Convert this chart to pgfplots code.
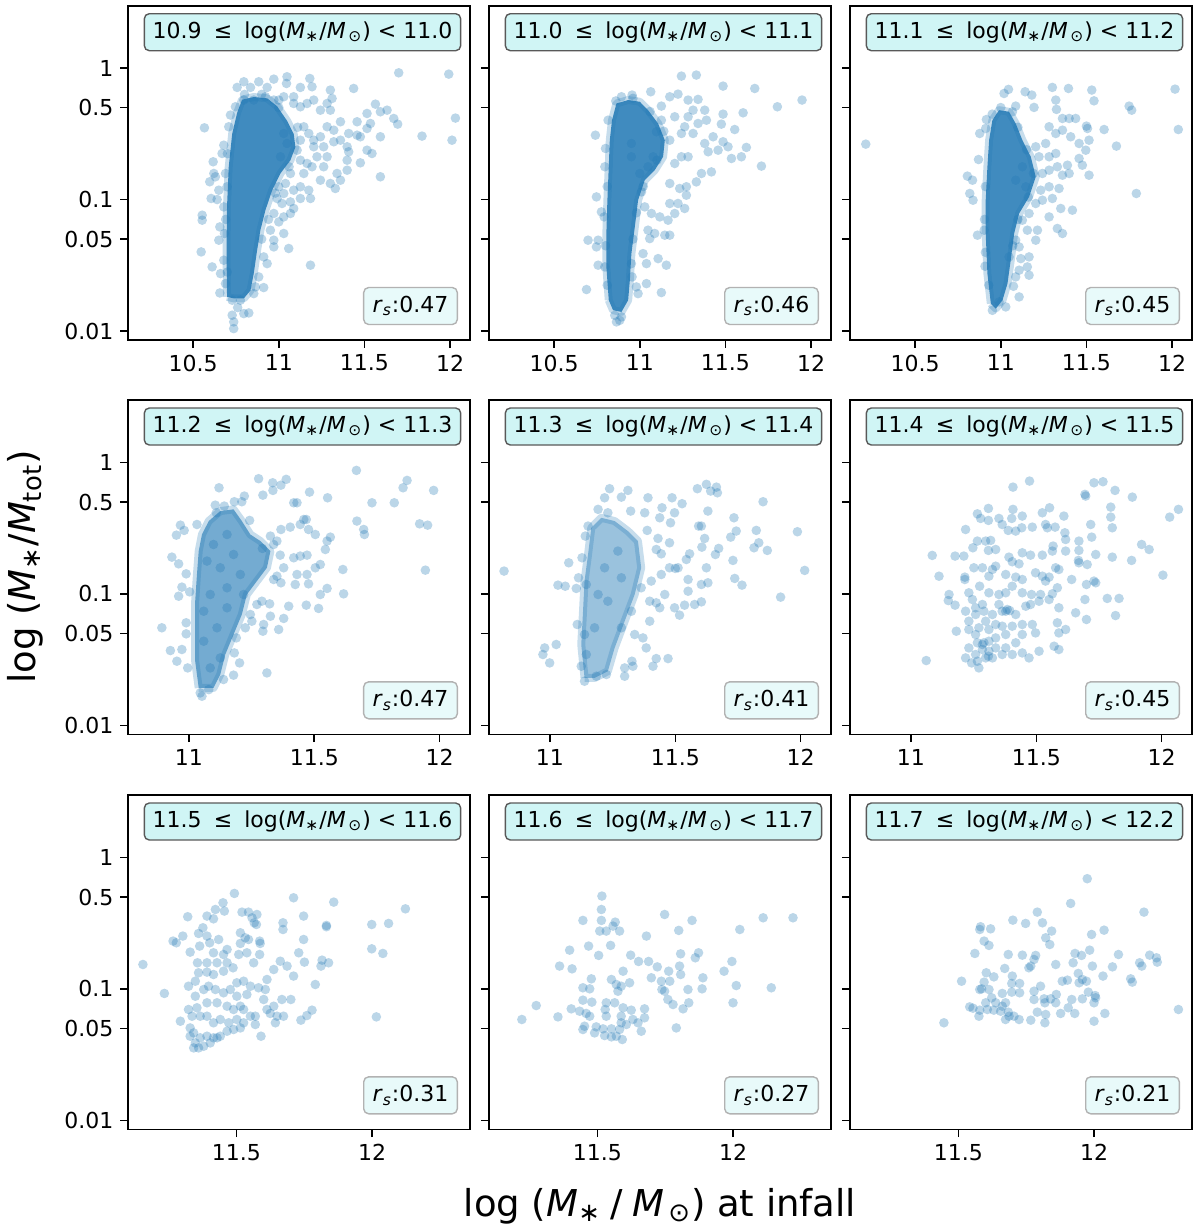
\documentclass[border=0pt]{standalone}
\usepackage{fontspec}
\setmainfont{DejaVu Sans}
\usepackage{pgfplots}
\pgfplotsset{compat=1.18}
\definecolor{mplblue}{HTML}{1F77B4}
\definecolor{boxfill}{RGB}{208,245,245}
\definecolor{rsfill}{RGB}{232,250,250}
\newcommand{\Mstar}{\textit{M}\textsubscript{∗}}
\newcommand{\Msun}{\textit{M}\hspace{0.12em}\textsubscript{⊙}}
\newcommand{\rs}{\textit{r}\textsubscript{\textit{s}}}
\tikzset{
  labbox/.style={draw=black!65, fill=boxfill, rounded corners=2.5pt, line width=0.7pt,
    inner xsep=4.2pt, minimum height=18.5pt, font=\fontsize{11}{13}\selectfont},
  rsbox/.style={draw=black!30, fill=rsfill, rounded corners=2.5pt, line width=0.7pt,
    inner xsep=4.5pt, minimum height=18.5pt, font=\fontsize{11}{13}\selectfont, anchor=south east},
}
\pgfplotsset{
  panel/.style={
    scale only axis, width=171pt, height=167.25pt,
    anchor=north west,
    ymin=-2.068, ymax=0.474,
    ytick={-2,-1.30103,-1,-0.30103,0},
    yticklabels={},
    tick align=outside, tick pos=left,
    major tick length=3.8pt,
    axis line style={line width=0.8pt},
    tick style={line width=0.8pt, black},
    tick label style={font=\fontsize{11}{13}\selectfont},
    /pgf/number format/assume math mode=true,
  },
  ylabs/.style={yticklabels={0.01,0.05,0.1,0.5,1}},
  pts/.style={only marks, mark=*, mark size=2.4pt, color=mplblue,
    mark options={solid, fill=mplblue, draw=mplblue, draw opacity=0, fill opacity=0.3}},
  core/.style={draw=mplblue, draw opacity=0.25, line width=4pt, line join=round,
    fill=mplblue, fill opacity=#1, mark=none},
}
\begin{document}
\begin{tikzpicture}
\path[use as bounding box] (0,0) rectangle (600pt,-616pt);

% ---------------- Row 1, col 1
\begin{axis}[panel, at={(64pt,-2.85pt)}, xmin=10.12, xmax=12.116,
  xtick={10.5,11,11.5,12}, xticklabels={10.5,11,11.5,12}, ylabs]
\addplot[core=0.85] coordinates {(10.698,-1.738)(10.695,-1.38)(10.698,-1.05)(10.708,-0.75)(10.728,-0.50)(10.757,-0.34)(10.786,-0.24)(10.854,-0.22)(10.932,-0.23)(10.990,-0.29)(11.048,-0.40)(11.087,-0.50)(11.097,-0.60)(11.068,-0.70)(11.010,-0.80)(10.961,-0.93)(10.922,-1.08)(10.893,-1.23)(10.874,-1.38)(10.854,-1.56)(10.835,-1.69)(10.796,-1.75)(10.737,-1.75)(10.698,-1.738)};
\addplot[pts] coordinates {(10.757,-0.147)(10.796,-0.104)(10.835,-0.147)(10.883,-0.104)(10.932,-0.147)(10.971,-0.084)(11.048,-0.066)(11.045,-0.117)(11.126,-0.147)(11.181,-0.079)(11.194,-0.142)(11.301,-0.167)(11.437,-0.155)(11.700,-0.036)(11.992,-0.046)(12.031,-0.380)(12.011,-0.548)(11.836,-0.517)(11.694,-0.426)(11.671,-0.383)(11.632,-0.320)(11.593,-0.332)(11.564,-0.274)(11.535,-0.421)(11.515,-0.459)(11.457,-0.408)(11.457,-0.510)(11.476,-0.522)(11.408,-0.497)(11.399,-0.598)(11.360,-0.408)(11.311,-0.231)(11.301,-0.320)(11.282,-0.269)(11.243,-0.320)(11.204,-0.243)(11.165,-0.269)(11.126,-0.294)(11.087,-0.269)(11.087,-0.218)(11.029,-0.218)(11.000,-0.243)(10.971,-0.243)(10.922,-0.218)(10.854,-0.243)(10.796,-0.243)(10.747,-0.294)(10.718,-0.357)(10.708,-0.446)(10.566,-0.454)(10.679,-0.586)(10.669,-0.649)(10.617,-0.712)(10.621,-0.801)(10.597,-0.864)(10.630,-0.826)(10.650,-0.928)(10.605,-0.991)(10.640,-0.999)(10.553,-1.118)(10.553,-1.156)(10.547,-1.397)(10.611,-1.511)(10.656,-1.207)(10.650,-1.308)(10.660,-1.562)(10.656,-1.709)(10.728,-1.878)(10.737,-1.929)(10.737,-1.980)(10.796,-1.866)(10.825,-1.861)(10.728,-1.764)(10.776,-1.764)(10.854,-1.714)(10.864,-1.663)(10.912,-1.668)(10.883,-1.587)(10.932,-1.486)(10.912,-1.435)(10.971,-1.359)(11.058,-1.371)(11.029,-1.257)(10.971,-1.308)(10.951,-1.232)(11.000,-1.169)(11.068,-1.105)(11.185,-1.498)(11.126,-0.991)(11.185,-0.991)(11.175,-0.928)(11.126,-0.902)(11.068,-1.017)(11.087,-1.067)(11.029,-0.953)(11.243,-0.852)(11.301,-0.877)(11.330,-0.915)(11.360,-0.852)(11.399,-0.700)(11.408,-0.636)(11.476,-0.720)(11.544,-0.649)(11.593,-0.826)(11.399,-0.776)(11.340,-0.801)(11.262,-0.750)(11.282,-0.674)(11.262,-0.598)(11.204,-0.598)(11.223,-0.674)(11.194,-0.750)(11.165,-0.725)(11.146,-0.801)(11.126,-0.700)(11.175,-0.497)(11.204,-0.548)(11.243,-0.522)(11.282,-0.446)(11.321,-0.472)(11.360,-0.548)(11.515,-0.624)(11.029,-1.131)(11.019,-1.029)(11.000,-0.902)(11.087,-0.928)(11.321,-0.560)(11.593,-0.522)(11.515,-0.345)(11.029,-0.497)(11.048,-0.573)(11.010,-0.674)(11.107,-0.624)(11.126,-0.548)(11.146,-0.446)(11.068,-0.801)(11.039,-0.877)(10.990,-0.991)(10.971,-1.105)(10.679,-1.055)(10.683,-1.257)(10.679,-1.460)(10.689,-1.638)(10.698,-0.902)(10.689,-0.801)(10.700,-0.650)(10.690,-1.150)(10.700,-1.550)(10.760,-1.820)(10.900,-1.300)(10.940,-1.150)(10.980,-0.950)(11.060,-0.750)(11.110,-0.450)(11.000,-0.300)(10.900,-0.200)(10.800,-0.200)};
\node[labbox, xshift=1.75pt, yshift=-13.25pt] at (rel axis cs:0.5,1) {10.9\hspace{0.55em}≤\hspace{0.55em}log(\Mstar/\Msun) < 11.0};
\node[rsbox, xshift=-6pt, yshift=7.5pt] at (rel axis cs:1,0) {\rs:0.47};
\end{axis}

% ---------------- Row 1, col 2
\begin{axis}[panel, at={(244.5pt,-2.85pt)}, xmin=10.12, xmax=12.116,
  xtick={10.5,11,11.5,12}, xticklabels={10.5,11,11.5,12}]
\addplot[core=0.85] coordinates {(10.819,-1.764)(10.805,-1.511)(10.805,-1.257)(10.811,-1.004)(10.819,-0.750)(10.825,-0.548)(10.838,-0.396)(10.864,-0.269)(10.932,-0.243)(11.000,-0.256)(11.048,-0.320)(11.107,-0.421)(11.146,-0.548)(11.136,-0.674)(11.087,-0.776)(11.029,-0.852)(10.990,-1.004)(10.971,-1.207)(10.951,-1.410)(10.942,-1.612)(10.932,-1.764)(10.893,-1.853)(10.844,-1.840)(10.819,-1.764)};
\addplot[pts] coordinates {(11.243,-0.061)(11.330,-0.053)(11.064,-0.180)(10.955,-0.205)(11.126,-0.289)(11.175,-0.218)(11.223,-0.198)(11.282,-0.243)(11.340,-0.238)(11.311,-0.320)(11.379,-0.320)(11.486,-0.137)(11.671,-0.155)(11.803,-0.294)(11.947,-0.243)(11.603,-0.340)(11.486,-0.350)(11.476,-0.426)(11.554,-0.467)(11.389,-0.396)(11.340,-0.421)(11.282,-0.370)(11.262,-0.446)(11.204,-0.370)(11.126,-0.396)(11.097,-0.484)(11.175,-0.548)(11.243,-0.497)(11.311,-0.497)(11.379,-0.573)(11.428,-0.522)(11.486,-0.560)(11.457,-0.624)(11.515,-0.598)(11.399,-0.636)(11.622,-0.603)(11.593,-0.674)(11.535,-0.687)(11.710,-0.745)(11.418,-0.789)(11.360,-0.801)(11.330,-0.865)(11.282,-0.674)(11.243,-0.674)(11.204,-0.725)(11.175,-0.877)(11.233,-0.915)(11.272,-0.902)(11.272,-0.966)(11.223,-1.029)(11.175,-1.029)(11.262,-1.067)(11.204,-1.105)(11.165,-1.156)(11.117,-1.131)(11.068,-1.105)(11.048,-1.232)(11.087,-1.257)(11.146,-1.270)(11.175,-1.270)(11.058,-1.296)(11.019,-1.410)(11.039,-1.486)(11.107,-1.448)(11.155,-1.498)(11.126,-1.706)(11.039,-1.638)(10.757,-1.308)(10.698,-1.308)(10.747,-1.359)(10.747,-0.979)(10.776,-1.093)(10.757,-1.498)(10.689,-1.683)(10.741,-0.510)(10.800,-0.611)(10.854,-1.879)(10.864,-1.929)(10.883,-1.917)(10.893,-1.891)(10.951,-1.486)(10.955,-1.587)(10.980,-1.663)(11.029,-1.055)(11.010,-0.941)(11.000,-0.801)(10.951,-0.674)(10.951,-0.573)(11.078,-0.674)(11.048,-0.750)(10.796,-0.750)(10.792,-1.131)(10.796,-1.511)(10.815,-0.396)(10.893,-0.218)(10.990,-1.714)(10.810,-0.900)(10.800,-1.350)(10.810,-1.650)(10.960,-1.300)(10.980,-1.100)(11.020,-0.900)(11.100,-0.700)(11.140,-0.480)(11.060,-0.330)(10.960,-0.230)(10.860,-0.250)};
\node[labbox, xshift=1.75pt, yshift=-13.25pt] at (rel axis cs:0.5,1) {11.0\hspace{0.55em}≤\hspace{0.55em}log(\Mstar/\Msun) < 11.1};
\node[rsbox, xshift=-6pt, yshift=7.5pt] at (rel axis cs:1,0) {\rs:0.46};
\end{axis}

% ---------------- Row 1, col 3
\begin{axis}[panel, at={(425pt,-2.85pt)}, xmin=10.12, xmax=12.116,
  xtick={10.5,11,11.5,12}, xticklabels={10.5,11,11.5,12}]
\addplot[core=0.85] coordinates {(10.942,-1.790)(10.922,-1.562)(10.912,-1.257)(10.912,-1.004)(10.922,-0.750)(10.932,-0.548)(10.951,-0.396)(10.990,-0.320)(11.048,-0.332)(11.087,-0.421)(11.126,-0.548)(11.175,-0.674)(11.204,-0.826)(11.165,-0.979)(11.107,-1.105)(11.078,-1.257)(11.058,-1.460)(11.039,-1.638)(11.010,-1.764)(10.971,-1.828)(10.942,-1.790)};
\addplot[pts] coordinates {(10.212,-0.578)(11.019,-0.193)(11.045,-0.162)(11.142,-0.180)(11.181,-0.205)(11.301,-0.147)(11.395,-0.155)(11.531,-0.167)(11.544,-0.249)(11.321,-0.243)(11.325,-0.314)(11.194,-0.299)(11.087,-0.289)(11.068,-0.332)(10.916,-0.391)(10.877,-0.497)(10.912,-0.459)(10.870,-0.695)(10.805,-0.821)(10.835,-0.852)(10.819,-0.953)(10.838,-1.004)(10.864,-1.270)(10.903,-1.232)(10.908,-1.506)(10.990,-1.777)(11.029,-1.815)(10.951,-1.841)(11.107,-1.739)(11.074,-1.658)(11.165,-1.574)(11.155,-1.511)(11.107,-1.536)(11.117,-1.448)(11.165,-1.435)(11.204,-1.308)(11.155,-1.232)(11.214,-1.232)(11.282,-1.131)(11.330,-1.219)(11.360,-1.257)(11.418,-1.080)(11.350,-1.067)(11.301,-0.991)(11.243,-1.004)(11.233,-0.928)(11.282,-0.902)(11.340,-0.915)(11.360,-0.814)(11.399,-0.801)(11.389,-0.738)(11.515,-0.814)(11.476,-0.738)(11.457,-0.687)(11.496,-0.624)(11.515,-0.548)(11.457,-0.573)(11.408,-0.522)(11.360,-0.472)(11.321,-0.497)(11.282,-0.446)(11.360,-0.383)(11.399,-0.383)(11.437,-0.383)(11.500,-0.441)(11.506,-0.459)(11.603,-0.467)(11.675,-0.593)(11.749,-0.289)(11.764,-0.320)(12.017,-0.160)(12.036,-0.467)(11.791,-0.953)(11.262,-0.573)(11.223,-0.674)(11.282,-0.674)(11.204,-0.598)(11.321,-0.649)(11.330,-0.750)(11.282,-0.776)(11.243,-0.801)(11.126,-0.750)(11.087,-0.852)(11.146,-0.902)(11.204,-1.029)(11.126,-1.156)(11.087,-1.308)(11.107,-1.359)(11.048,-1.435)(11.087,-1.587)(11.165,-1.105)(10.910,-0.900)(10.905,-1.150)(10.910,-1.400)(10.930,-1.650)(11.070,-1.350)(11.100,-1.150)(11.160,-0.980)(11.190,-0.800)(11.150,-0.620)(11.100,-0.450)(11.000,-0.300)(10.950,-0.350)};
\node[labbox, xshift=1.75pt, yshift=-13.25pt] at (rel axis cs:0.5,1) {11.1\hspace{0.55em}≤\hspace{0.55em}log(\Mstar/\Msun) < 11.2};
\node[rsbox, xshift=-6pt, yshift=7.5pt] at (rel axis cs:1,0) {\rs:0.45};
\end{axis}

% ---------------- Row 2, col 1
\begin{axis}[panel, at={(64pt,-200pt)}, xmin=10.757, xmax=12.121,
  xtick={11,11.5,12}, xticklabels={11,11.5,12}, ylabs]
\addplot[core=0.62] coordinates {(11.039,-1.714)(11.025,-1.511)(11.025,-1.257)(11.025,-1.055)(11.032,-0.852)(11.039,-0.674)(11.052,-0.548)(11.079,-0.446)(11.125,-0.370)(11.178,-0.357)(11.211,-0.446)(11.245,-0.548)(11.285,-0.598)(11.325,-0.674)(11.311,-0.801)(11.271,-0.902)(11.231,-1.004)(11.211,-1.156)(11.178,-1.308)(11.145,-1.460)(11.125,-1.612)(11.098,-1.714)(11.039,-1.714)};
\addplot[pts] coordinates {(11.668,-0.061)(11.278,-0.124)(11.388,-0.129)(11.334,-0.155)(11.367,-0.173)(11.335,-0.213)(11.120,-0.193)(11.481,-0.226)(11.553,-0.269)(11.295,-0.249)(11.221,-0.256)(11.181,-0.299)(11.211,-0.299)(11.105,-0.325)(11.141,-0.332)(11.109,-0.383)(11.418,-0.307)(11.431,-0.307)(11.730,-0.307)(11.819,-0.307)(11.854,-0.193)(11.870,-0.137)(11.976,-0.213)(11.670,-0.446)(11.697,-0.510)(11.700,-0.548)(11.920,-0.467)(11.952,-0.477)(11.468,-0.434)(11.458,-0.434)(11.444,-0.472)(11.404,-0.492)(11.367,-0.510)(11.325,-0.560)(11.351,-0.598)(11.242,-0.441)(11.032,-0.472)(10.966,-0.477)(10.981,-0.517)(10.950,-0.553)(10.932,-0.720)(10.959,-0.771)(10.989,-0.847)(10.972,-0.948)(10.959,-1.017)(11.003,-0.984)(10.892,-1.257)(10.989,-1.219)(10.989,-1.303)(10.926,-1.430)(10.972,-1.422)(10.952,-1.511)(10.995,-1.562)(11.045,-1.752)(11.052,-1.777)(11.079,-1.727)(11.138,-1.650)(11.178,-1.617)(11.311,-1.600)(11.202,-1.524)(11.181,-1.448)(11.189,-1.334)(11.225,-1.257)(11.251,-1.207)(11.295,-1.283)(11.298,-1.232)(11.325,-1.169)(11.358,-1.270)(11.378,-1.186)(11.398,-1.093)(11.468,-1.085)(11.517,-1.110)(11.551,-0.958)(11.524,-1.004)(11.477,-0.923)(11.424,-0.928)(11.367,-0.915)(11.322,-1.075)(11.291,-1.055)(11.617,-0.999)(11.614,-0.814)(11.524,-0.776)(11.504,-0.801)(11.471,-0.852)(11.431,-0.852)(11.418,-0.725)(11.444,-0.712)(11.471,-0.705)(11.378,-0.801)(11.351,-0.865)(11.338,-0.890)(11.544,-0.662)(11.551,-0.598)(11.564,-0.568)(11.504,-0.548)(11.477,-0.510)(11.364,-0.705)(11.338,-0.624)(11.293,-0.654)(11.943,-0.819)(11.271,-1.080)(11.245,-1.156)(11.152,-1.105)(11.085,-1.004)(11.072,-0.750)(11.098,-0.624)(11.152,-0.548)(11.178,-0.700)(11.125,-0.801)(11.205,-0.852)(11.152,-0.953)(11.059,-1.359)(11.085,-1.562)(11.125,-1.486)(11.059,-1.131)(11.112,-1.257)(11.218,-1.004)};
\node[labbox, xshift=1.75pt, yshift=-13.25pt] at (rel axis cs:0.5,1) {11.2\hspace{0.55em}≤\hspace{0.55em}log(\Mstar/\Msun) < 11.3};
\node[rsbox, xshift=-6pt, yshift=7.5pt] at (rel axis cs:1,0) {\rs:0.47};
\end{axis}

% ---------------- Row 2, col 2
\begin{axis}[panel, at={(244.5pt,-200pt)}, xmin=10.757, xmax=12.121,
  xtick={11,11.5,12}, xticklabels={11,11.5,12}]
\addplot[core=0.45] coordinates {(11.138,-1.638)(11.125,-1.384)(11.132,-1.131)(11.138,-0.902)(11.152,-0.700)(11.165,-0.497)(11.205,-0.421)(11.258,-0.446)(11.311,-0.522)(11.351,-0.598)(11.364,-0.801)(11.338,-1.004)(11.298,-1.207)(11.258,-1.410)(11.231,-1.587)(11.178,-1.638)(11.138,-1.638)};
\addplot[pts] coordinates {(10.817,-0.826)(11.238,-0.200)(11.311,-0.213)(11.218,-0.269)(11.285,-0.264)(11.391,-0.269)(11.487,-0.269)(11.527,-0.314)(11.588,-0.200)(11.624,-0.167)(11.641,-0.218)(11.664,-0.188)(11.668,-0.231)(11.447,-0.345)(11.497,-0.383)(11.438,-0.421)(11.481,-0.459)(11.378,-0.383)(11.322,-0.370)(11.231,-0.383)(11.192,-0.357)(11.152,-0.484)(11.141,-0.560)(11.075,-0.763)(11.128,-0.725)(11.114,-0.877)(11.145,-0.928)(11.032,-0.933)(11.061,-0.941)(11.105,-0.958)(11.109,-1.232)(11.138,-1.308)(11.145,-1.460)(11.125,-1.549)(11.138,-1.663)(11.185,-1.625)(11.225,-1.612)(11.298,-1.625)(11.331,-1.549)(11.298,-1.562)(11.327,-1.511)(11.424,-1.491)(11.471,-1.491)(11.411,-1.549)(11.371,-1.334)(11.338,-1.308)(11.384,-1.410)(11.398,-1.207)(11.424,-1.067)(11.438,-1.105)(11.497,-1.105)(11.517,-1.161)(11.537,-1.085)(11.577,-1.080)(11.604,-1.060)(11.551,-0.979)(11.604,-0.928)(11.630,-0.915)(11.737,-0.882)(11.766,-0.933)(11.920,-1.024)(12.016,-0.821)(11.987,-0.527)(11.850,-0.299)(11.823,-0.517)(11.833,-0.611)(11.867,-0.669)(11.814,-0.649)(11.734,-0.421)(11.743,-0.522)(11.721,-0.568)(11.673,-0.654)(11.660,-0.700)(11.624,-0.801)(11.606,-0.644)(11.617,-0.578)(11.604,-0.484)(11.630,-0.370)(11.593,-0.484)(11.477,-0.611)(11.431,-0.578)(11.388,-0.517)(11.424,-0.662)(11.444,-0.695)(11.477,-0.801)(11.500,-0.806)(11.544,-0.738)(11.557,-0.695)(11.730,-0.745)(11.551,-0.890)(11.511,-0.801)(11.444,-0.852)(11.404,-0.902)(11.364,-0.953)(11.458,-1.004)(11.398,-1.055)(10.979,-1.410)(10.999,-1.524)(11.025,-1.384)(10.972,-1.460)(11.271,-0.674)(11.285,-0.877)(11.192,-1.004)(11.178,-1.257)(11.231,-1.055)(11.285,-1.257)(11.218,-0.801)(11.325,-1.131)};
\node[labbox, xshift=1.75pt, yshift=-13.25pt] at (rel axis cs:0.5,1) {11.3\hspace{0.55em}≤\hspace{0.55em}log(\Mstar/\Msun) < 11.4};
\node[rsbox, xshift=-6pt, yshift=7.5pt] at (rel axis cs:1,0) {\rs:0.41};
\end{axis}

% ---------------- Row 2, col 3
\begin{axis}[panel, at={(425pt,-200pt)}, xmin=10.757, xmax=12.121,
  xtick={11,11.5,12}, xticklabels={11,11.5,12}]
\addplot[pts] coordinates {(11.473,-0.142)(11.407,-0.188)(11.730,-0.155)(11.766,-0.147)(11.694,-0.243)(11.697,-0.256)(11.814,-0.213)(11.883,-0.264)(11.797,-0.340)(12.032,-0.416)(12.067,-0.357)(11.553,-0.345)(11.610,-0.408)(11.524,-0.383)(11.444,-0.408)(11.407,-0.357)(11.309,-0.350)(11.265,-0.391)(11.278,-0.426)(11.309,-0.441)(11.351,-0.426)(11.402,-0.426)(11.364,-0.472)(11.388,-0.517)(11.418,-0.522)(11.442,-0.497)(11.484,-0.492)(11.537,-0.472)(11.544,-0.497)(11.575,-0.492)(11.614,-0.535)(11.617,-0.586)(11.670,-0.598)(11.717,-0.472)(11.721,-0.568)(11.797,-0.416)(11.803,-0.497)(11.920,-0.624)(11.950,-0.662)(12.005,-0.857)(11.880,-0.745)(11.803,-0.720)(11.737,-0.700)(11.703,-0.776)(11.670,-0.763)(11.668,-0.745)(11.670,-0.669)(11.617,-0.674)(11.567,-0.636)(11.564,-0.674)(11.524,-0.705)(11.477,-0.705)(11.444,-0.687)(11.431,-0.771)(11.404,-0.755)(11.391,-0.720)(11.338,-0.662)(11.309,-0.669)(11.298,-0.598)(11.318,-0.593)(11.265,-0.598)(11.247,-0.649)(11.218,-0.510)(11.211,-0.712)(11.176,-0.712)(11.085,-0.707)(11.112,-0.865)(11.215,-0.872)(11.251,-0.801)(11.285,-0.801)(11.311,-0.865)(11.338,-0.789)(11.325,-0.814)(11.378,-0.852)(11.418,-0.872)(11.444,-0.890)(11.497,-0.839)(11.524,-0.865)(11.537,-0.902)(11.551,-0.872)(11.577,-0.801)(11.590,-0.814)(11.641,-0.890)(11.584,-0.953)(11.564,-0.999)(11.517,-1.004)(11.481,-1.004)(11.444,-0.991)(11.404,-0.941)(11.378,-0.991)(11.351,-1.004)(11.311,-0.991)(11.274,-0.941)(11.231,-0.991)(11.215,-0.890)(11.149,-1.050)(11.176,-1.085)(11.245,-1.042)(11.258,-1.105)(11.291,-1.131)(11.325,-1.156)(11.378,-1.131)(11.394,-1.126)(11.418,-1.156)(11.458,-1.093)(11.477,-1.080)(11.511,-1.055)(11.551,-1.042)(11.590,-1.105)(11.584,-1.219)(11.590,-1.296)(11.617,-1.270)(11.657,-1.143)(11.700,-1.194)(11.737,-0.915)(11.700,-0.928)(11.730,-0.902)(11.783,-1.034)(11.830,-1.034)(11.816,-1.164)(11.694,-1.042)(11.181,-1.283)(11.231,-1.270)(11.258,-1.308)(11.271,-1.257)(11.311,-1.270)(11.338,-1.232)(11.364,-1.245)(11.404,-1.245)(11.444,-1.232)(11.484,-1.232)(11.497,-1.296)(11.444,-1.308)(11.418,-1.371)(11.378,-1.410)(11.338,-1.410)(11.291,-1.371)(11.265,-1.371)(11.231,-1.410)(11.218,-1.486)(11.242,-1.524)(11.271,-1.562)(11.265,-1.511)(11.309,-1.473)(11.325,-1.486)(11.364,-1.460)(11.404,-1.460)(11.444,-1.448)(11.471,-1.486)(11.511,-1.435)(11.571,-1.397)(11.590,-1.422)(11.061,-1.506)(11.311,-1.359)(11.285,-1.422)(11.338,-1.334)(11.378,-1.308)(11.218,-1.131)(11.231,-1.207)(11.298,-1.207)(11.351,-1.080)(11.152,-1.004)(11.285,-1.384)(11.311,-1.435)(11.298,-1.486)(11.258,-1.460)(11.364,-1.131)(11.384,-1.118)(11.258,-1.156)(11.285,-1.080)};
\node[labbox, xshift=1.75pt, yshift=-13.25pt] at (rel axis cs:0.5,1) {11.4\hspace{0.55em}≤\hspace{0.55em}log(\Mstar/\Msun) < 11.5};
\node[rsbox, xshift=-6pt, yshift=7.5pt] at (rel axis cs:1,0) {\rs:0.45};
\end{axis}

% ---------------- Row 3, col 1
\begin{axis}[panel, at={(64pt,-397.5pt)}, xmin=11.101, xmax=12.361,
  xtick={11.5,12}, xticklabels={11.5,12}, ylabs]
\addplot[pts] coordinates {(11.156,-0.814)(11.235,-1.034)(11.294,-1.245)(11.321,-0.451)(11.267,-0.636)(11.279,-0.649)(11.303,-0.598)(11.324,-0.979)(11.330,-0.720)(11.349,-1.055)(11.361,-0.578)(11.377,-0.535)(11.392,-0.446)(11.423,-0.396)(11.451,-0.345)(11.456,-0.408)(11.416,-0.467)(11.493,-0.274)(11.521,-0.416)(11.545,-0.416)(11.558,-0.459)(11.566,-0.497)(11.576,-0.434)(11.574,-0.510)(11.515,-0.573)(11.533,-0.611)(11.515,-0.654)(11.545,-0.624)(11.586,-0.636)(11.588,-0.654)(11.509,-0.738)(11.539,-0.725)(11.564,-0.801)(11.586,-0.738)(11.453,-0.738)(11.466,-0.700)(11.435,-0.624)(11.402,-0.649)(11.392,-0.598)(11.365,-0.674)(11.357,-0.801)(11.392,-0.801)(11.416,-0.725)(11.429,-0.801)(11.466,-0.801)(11.488,-0.839)(11.453,-0.865)(11.416,-0.890)(11.392,-0.872)(11.361,-0.877)(11.349,-0.941)(11.380,-1.004)(11.398,-0.979)(11.423,-1.004)(11.453,-1.029)(11.478,-1.004)(11.502,-0.953)(11.527,-0.941)(11.552,-0.979)(11.582,-0.991)(11.607,-1.004)(11.502,-1.055)(11.539,-1.042)(11.515,-1.131)(11.527,-1.156)(11.490,-1.156)(11.466,-1.131)(11.429,-1.105)(11.392,-1.105)(11.355,-1.143)(11.324,-1.156)(11.337,-1.207)(11.367,-1.207)(11.392,-1.207)(11.416,-1.257)(11.441,-1.232)(11.472,-1.257)(11.502,-1.232)(11.527,-1.257)(11.552,-1.207)(11.570,-1.207)(11.613,-1.156)(11.625,-1.186)(11.644,-1.257)(11.674,-1.207)(11.701,-1.080)(11.668,-1.080)(11.638,-1.131)(11.601,-1.080)(11.570,-1.270)(11.515,-1.296)(11.490,-1.308)(11.466,-1.321)(11.441,-1.359)(11.416,-1.371)(11.392,-1.359)(11.367,-1.371)(11.343,-1.334)(11.330,-1.296)(11.349,-1.410)(11.343,-1.448)(11.361,-1.448)(11.380,-1.435)(11.404,-1.410)(11.429,-1.371)(11.330,-1.359)(11.591,-1.359)(11.672,-0.497)(11.672,-0.548)(11.711,-0.307)(11.748,-0.446)(11.748,-0.624)(11.730,-0.725)(11.751,-0.796)(11.662,-0.789)(11.687,-0.826)(11.711,-0.902)(11.791,-0.966)(11.816,-0.781)(11.832,-0.517)(11.859,-0.340)(11.832,-0.527)(11.812,-0.826)(11.840,-0.801)(11.779,-1.161)(11.760,-1.202)(11.738,-1.237)(11.650,-1.207)(11.999,-0.510)(12.061,-0.502)(12.123,-0.391)(11.999,-0.695)(12.040,-0.730)(12.016,-1.212)(11.638,-0.852)(11.613,-0.928)};
\node[labbox, xshift=1.75pt, yshift=-13.25pt] at (rel axis cs:0.5,1) {11.5\hspace{0.55em}≤\hspace{0.55em}log(\Mstar/\Msun) < 11.6};
\node[rsbox, xshift=-6pt, yshift=7.5pt] at (rel axis cs:1,0) {\rs:0.31};
\end{axis}

% ---------------- Row 3, col 2
\begin{axis}[panel, at={(244.5pt,-397.5pt)}, xmin=11.101, xmax=12.361,
  xtick={11.5,12}, xticklabels={11.5,12}]
\addplot[pts] coordinates {(11.517,-0.294)(11.515,-0.396)(11.447,-0.479)(11.515,-0.479)(11.566,-0.492)(11.558,-0.522)(11.582,-0.560)(11.509,-0.560)(11.533,-0.560)(11.748,-0.434)(11.849,-0.479)(11.800,-0.555)(11.681,-0.598)(11.549,-0.669)(11.468,-0.674)(11.398,-0.705)(11.505,-0.745)(11.623,-0.743)(11.652,-0.791)(11.689,-0.791)(11.721,-0.832)(11.763,-0.865)(11.803,-0.826)(11.807,-0.733)(11.861,-0.763)(11.873,-0.725)(11.807,-0.890)(11.767,-0.941)(11.736,-0.941)(11.699,-0.915)(11.738,-1.004)(11.748,-1.017)(11.760,-1.080)(11.779,-1.118)(11.816,-1.151)(11.834,-1.004)(11.886,-0.999)(11.889,-0.915)(11.837,-1.105)(11.967,-0.865)(11.996,-0.791)(12.012,-0.974)(12.000,-1.105)(12.025,-0.548)(12.111,-0.459)(12.221,-0.459)(12.141,-0.991)(11.361,-0.826)(11.407,-0.847)(11.478,-0.923)(11.552,-0.928)(11.595,-0.865)(11.619,-0.953)(11.588,-0.979)(11.576,-1.017)(11.570,-0.966)(11.447,-0.991)(11.472,-0.999)(11.447,-1.085)(11.480,-1.100)(11.533,-1.105)(11.564,-1.105)(11.595,-1.143)(11.625,-1.161)(11.674,-1.151)(11.404,-1.151)(11.435,-1.169)(11.459,-1.186)(11.472,-1.207)(11.529,-1.156)(11.533,-1.207)(11.588,-1.207)(11.631,-1.232)(11.674,-1.219)(11.650,-1.257)(11.662,-1.321)(11.607,-1.270)(11.588,-1.257)(11.582,-1.308)(11.552,-1.303)(11.521,-1.303)(11.496,-1.288)(11.490,-1.334)(11.447,-1.308)(11.453,-1.283)(11.527,-1.354)(11.552,-1.364)(11.570,-1.359)(11.592,-1.384)(11.791,-1.296)(11.275,-1.126)(11.222,-1.232)(11.355,-1.212)};
\node[labbox, xshift=1.75pt, yshift=-13.25pt] at (rel axis cs:0.5,1) {11.6\hspace{0.55em}≤\hspace{0.55em}log(\Mstar/\Msun) < 11.7};
\node[rsbox, xshift=-6pt, yshift=7.5pt] at (rel axis cs:1,0) {\rs:0.27};
\end{axis}

% ---------------- Row 3, col 3
\begin{axis}[panel, at={(425pt,-397.5pt)}, xmin=11.101, xmax=12.361,
  xtick={11.5,12}, xticklabels={11.5,12}]
\addplot[pts] coordinates {(11.975,-0.162)(11.914,-0.350)(12.184,-0.416)(11.791,-0.416)(11.701,-0.477)(11.748,-0.502)(11.810,-0.497)(11.582,-0.527)(11.579,-0.548)(11.619,-0.543)(11.844,-0.560)(11.822,-0.611)(11.991,-0.586)(12.037,-0.553)(11.595,-0.636)(11.613,-0.669)(11.837,-0.662)(11.561,-0.730)(11.684,-0.738)(11.736,-0.743)(11.785,-0.745)(11.779,-0.776)(11.760,-0.839)(11.767,-0.826)(11.859,-0.814)(11.930,-0.730)(11.954,-0.745)(11.984,-0.705)(11.923,-0.801)(11.994,-0.826)(12.090,-0.738)(12.068,-0.832)(12.033,-0.902)(12.205,-0.743)(12.230,-0.763)(12.233,-0.796)(12.168,-0.801)(12.176,-0.826)(12.135,-0.923)(12.141,-0.948)(11.942,-0.882)(11.957,-0.928)(11.972,-0.941)(11.945,-0.953)(11.902,-0.933)(11.883,-0.941)(11.671,-0.844)(11.699,-0.902)(11.631,-0.908)(11.603,-0.877)(11.512,-0.941)(11.595,-0.948)(11.586,-0.999)(11.579,-1.004)(11.613,-1.004)(11.697,-0.958)(11.726,-0.958)(11.803,-0.979)(11.779,-1.017)(11.662,-1.034)(11.697,-1.024)(11.726,-1.029)(11.779,-1.080)(11.816,-1.075)(11.840,-1.075)(11.861,-1.042)(11.819,-1.105)(11.859,-1.105)(11.918,-1.080)(11.957,-1.075)(11.979,-1.024)(12.004,-1.050)(12.000,-1.105)(12.006,-1.067)(11.623,-1.067)(11.601,-1.105)(11.638,-1.105)(11.662,-1.131)(11.674,-1.105)(11.607,-1.156)(11.631,-1.161)(11.656,-1.169)(11.684,-1.176)(11.687,-1.207)(11.705,-1.207)(11.724,-1.232)(11.674,-1.232)(11.767,-1.237)(11.791,-1.176)(11.822,-1.194)(11.819,-1.257)(11.877,-1.186)(11.905,-1.143)(11.929,-1.186)(12.000,-1.245)(12.040,-1.186)(11.542,-1.136)(11.554,-1.146)(11.579,-1.161)(11.576,-1.207)(11.447,-1.257)(12.311,-1.156)};
\node[labbox, xshift=1.75pt, yshift=-13.25pt] at (rel axis cs:0.5,1) {11.7\hspace{0.55em}≤\hspace{0.55em}log(\Mstar/\Msun) < 12.2};
\node[rsbox, xshift=-6pt, yshift=7.5pt] at (rel axis cs:1,0) {\rs:0.21};
\end{axis}

\node[rotate=90, font=\fontsize{18.5}{22}\selectfont] at (12.5pt,-283.5pt) {log (\Mstar/\textit{M}\textsubscript{tot})};
\node[anchor=base, font=\fontsize{18.5}{22}\selectfont] at (330pt,-608pt) {log (\Mstar\hspace{0.25em}/\hspace{0.25em}\Msun) at infall};
\end{tikzpicture}
\end{document}
